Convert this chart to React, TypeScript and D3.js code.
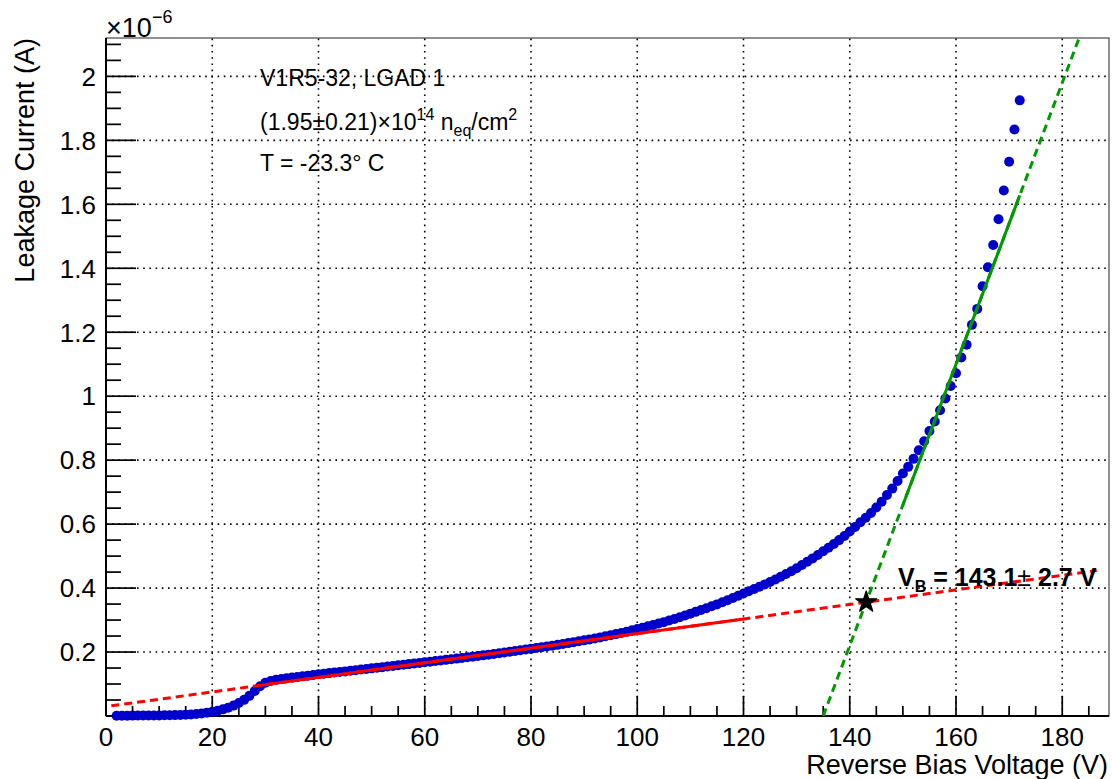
import React from "react";
import * as d3 from "d3";

// Bias scan of V1R5-32, LGAD 1 (1 V steps)
const biasVoltages = [
  2, 3, 4, 5, 6, 7, 8, 9, 10, 11, 12, 13, 14, 15, 16, 17, 18, 19, 20, 21,
  22, 23, 24, 25, 26, 27, 28, 29, 30, 31, 32, 33, 34, 35, 36, 37, 38, 39, 40, 41,
  42, 43, 44, 45, 46, 47, 48, 49, 50, 51, 52, 53, 54, 55, 56, 57, 58, 59, 60, 61,
  62, 63, 64, 65, 66, 67, 68, 69, 70, 71, 72, 73, 74, 75, 76, 77, 78, 79, 80, 81,
  82, 83, 84, 85, 86, 87, 88, 89, 90, 91, 92, 93, 94, 95, 96, 97, 98, 99, 100, 101,
  102, 103, 104, 105, 106, 107, 108, 109, 110, 111, 112, 113, 114, 115, 116, 117, 118, 119, 120, 121,
  122, 123, 124, 125, 126, 127, 128, 129, 130, 131, 132, 133, 134, 135, 136, 137, 138, 139, 140, 141,
  142, 143, 144, 145, 146, 147, 148, 149, 150, 151, 152, 153, 154, 155, 156, 157, 158, 159, 160, 161,
  162, 163, 164, 165, 166, 167, 168, 169, 170, 171, 172,
];

// Leakage current in units of 1e-6 A
const leakageCurrents = [
  0.001, 0.001, 0.0011, 0.0012, 0.0013, 0.0014, 0.0015, 0.0017, 0.0019, 0.0021,
  0.0024, 0.0028, 0.0033, 0.004, 0.005, 0.0063, 0.008, 0.0102, 0.013, 0.0165,
  0.0208, 0.026, 0.0325, 0.0405, 0.0505, 0.063, 0.078, 0.093, 0.104, 0.1095,
  0.113, 0.1158, 0.118, 0.12, 0.122, 0.124, 0.126, 0.1282, 0.1304, 0.1323,
  0.1341, 0.1359, 0.1377, 0.1395, 0.1414, 0.1433, 0.1452, 0.1471, 0.149, 0.1509,
  0.1528, 0.1547, 0.1566, 0.1585, 0.1604, 0.1623, 0.1642, 0.1661, 0.168, 0.1699,
  0.1718, 0.1737, 0.1756, 0.1775, 0.1795, 0.1815, 0.1835, 0.1855, 0.1875, 0.1896,
  0.1918, 0.194, 0.1962, 0.1985, 0.2008, 0.2031, 0.2054, 0.2077, 0.21, 0.2124,
  0.2149, 0.2174, 0.2199, 0.2225, 0.2252, 0.2279, 0.2307, 0.2336, 0.2365, 0.2395,
  0.2426, 0.2458, 0.2491, 0.2525, 0.2561, 0.2598, 0.2637, 0.2678, 0.272, 0.2762,
  0.2805, 0.2848, 0.2891, 0.2935, 0.2985, 0.3035, 0.3088, 0.3143, 0.32, 0.3256,
  0.3313, 0.3371, 0.343, 0.349, 0.3555, 0.362, 0.3688, 0.3758, 0.383, 0.39,
  0.397, 0.4042, 0.4115, 0.419, 0.427, 0.4352, 0.4438, 0.4527, 0.462, 0.472,
  0.4822, 0.4928, 0.5037, 0.515, 0.526, 0.538, 0.55, 0.563, 0.577, 0.591,
  0.606, 0.62, 0.635, 0.652, 0.67, 0.691, 0.711, 0.735, 0.758, 0.779,
  0.804, 0.831, 0.859, 0.891, 0.921, 0.956, 0.993, 1.032, 1.072, 1.121,
  1.161, 1.223, 1.273, 1.344, 1.403, 1.473, 1.553, 1.643, 1.733, 1.834,
  1.925,
];

// Linear fits: pre-breakdown plateau and breakdown slope
const plateauFit = { slope: 0.00228, intercept: 0.0296, fitRange: [29, 120], drawRange: [1, 186.5] };
const breakdownFit = { slope: 0.044, intercept: -5.94, fitRange: [150, 172], drawRange: [135, 186] };

const breakdownVoltage = 143.1;
const breakdownError = 2.7;

const xTickValues = [0, 20, 40, 60, 80, 100, 120, 140, 160, 180];
const yTickValues = [0.2, 0.4, 0.6, 0.8, 1, 1.2, 1.4, 1.6, 1.8, 2];
const yTickLabels = ["0.2", "0.4", "0.6", "0.8", "1", "1.2", "1.4", "1.6", "1.8", "2"];

const infoLines = ["V1R5-32, LGAD 1", "T = -23.3\u00b0 C"];

const W = 1112;
const H = 779;
const M = { left: 106, right: 1109, top: 38, bottom: 716 };
const FONT = "'Liberation Sans', Arial, Helvetica, sans-serif";

export default function App() {
  const x = d3.scaleLinear().domain([0, 188.8]).range([M.left, M.right]);
  const y = d3.scaleLinear().domain([0, 2.12]).range([M.bottom, M.top]);

  const xMinor = d3.range(0, 188.8, 5);
  const yMinor = d3.range(0, 2.12, 0.05);

  const fitLine = (f: typeof plateauFit, r: number[]) => {
    const gen = d3
      .line<number>()
      .x((v) => x(v))
      .y((v) => y(f.slope * v + f.intercept));
    return gen([r[0], r[1]]) || "";
  };

  const starI = plateauFit.slope * breakdownVoltage + plateauFit.intercept;
  const starPath = d3.symbol(d3.symbolStar, 140)() || "";

  const grid = { stroke: "#000", strokeWidth: 1.6, strokeDasharray: "1.6,4.6" };

  return (
    <svg
      width={W}
      height={H}
      style={{ position: "absolute", left: 0, top: 0, background: "#fff" }}
      fontFamily={FONT}
    >
      <defs>
        <clipPath id="frame">
          <rect x={M.left} y={M.top} width={M.right - M.left} height={M.bottom - M.top} />
        </clipPath>
      </defs>
      <rect x={0} y={0} width={W} height={H} fill="#fff" />

      {/* grid */}
      {xTickValues
        .filter((v) => v > 0)
        .map((v) => (
          <line key={"gx" + v} x1={x(v)} x2={x(v)} y1={M.bottom} y2={M.top} {...grid} />
        ))}
      {yTickValues.map((v) => (
        <line key={"gy" + v} x1={M.left} x2={M.right} y1={y(v)} y2={y(v)} {...grid} />
      ))}

      {/* frame */}
      <rect
        x={M.left}
        y={M.top}
        width={M.right - M.left}
        height={M.bottom - M.top}
        fill="none"
        stroke="#222"
        strokeWidth={1}
      />
      <line x1={M.left} x2={M.right} y1={M.bottom} y2={M.bottom} stroke="#000" strokeWidth={2} />
      <line x1={M.left} x2={M.left} y1={M.top} y2={M.bottom} stroke="#000" strokeWidth={2} />

      {/* ticks */}
      {xMinor.map((v) => {
        const major = v % 20 === 0;
        return (
          <line
            key={"tx" + v}
            x1={x(v)}
            x2={x(v)}
            y1={M.bottom}
            y2={M.bottom - (major ? 20 : 10)}
            stroke="#000"
            strokeWidth={1.7}
          />
        );
      })}
      {yMinor.map((v, i) => {
        const major = i % 4 === 0;
        return (
          <line
            key={"ty" + i}
            x1={M.left}
            x2={M.left + (major ? 30 : 15)}
            y1={y(v)}
            y2={y(v)}
            stroke="#000"
            strokeWidth={1.7}
          />
        );
      })}

      {/* tick labels */}
      {xTickValues.map((v) => (
        <text key={"lx" + v} x={x(v)} y={746} fontSize={26} textAnchor="middle" fill="#000">
          {v}
        </text>
      ))}
      {yTickValues.map((v, i) => (
        <text key={"ly" + v} x={96} y={y(v) + 9.3} fontSize={26} textAnchor="end" fill="#000">
          {yTickLabels[i]}
        </text>
      ))}

      {/* exponent */}
      <text x={106} y={37} fontSize={27} fill="#000">
        {"\u00d710"}
      </text>
      <text x={152} y={23} fontSize={18} fill="#000">
        {"\u22126"}
      </text>

      {/* axis titles */}
      <text x={1108} y={774} fontSize={27} textAnchor="end" fill="#000">
        Reverse Bias Voltage (V)
      </text>
      <text transform="translate(34,38) rotate(-90)" fontSize={27} textAnchor="end" fill="#000">
        Leakage Current (A)
      </text>

      {/* data */}
      {biasVoltages.map((v, i) => (
        <circle key={"p" + v} cx={x(v)} cy={y(leakageCurrents[i])} r={5} fill="#0000cc" />
      ))}

      {/* fits */}
      <g clipPath="url(#frame)" fill="none" strokeWidth={3}>
        <path d={fitLine(plateauFit, plateauFit.drawRange)} stroke="#ff0000" strokeDasharray="8,5" />
        <path d={fitLine(plateauFit, plateauFit.fitRange)} stroke="#ff0000" />
        <path d={fitLine(breakdownFit, breakdownFit.drawRange)} stroke="#009900" strokeDasharray="8,5" />
        <path d={fitLine(breakdownFit, breakdownFit.fitRange)} stroke="#009900" />
      </g>

      {/* breakdown point */}
      <path
        d={starPath}
        transform={`translate(${x(breakdownVoltage)},${y(starI)})`}
        fill="#000"
        stroke="#000"
        strokeWidth={1.2}
        strokeLinejoin="round"
      />

      {/* info text */}
      <text x={260} y={86} fontSize={23} fill="#000">
        {infoLines[0]}
      </text>
      <text x={260} y={129.5} fontSize={23} fill="#000">
        <tspan>{"(1.95\u00b10.21)\u00d710"}</tspan>
        <tspan fontSize={16} dy={-10}>
          14
        </tspan>
        <tspan dy={10}>{" n"}</tspan>
        <tspan fontSize={16} dy={6}>
          eq
        </tspan>
        <tspan dy={-6}>/cm</tspan>
        <tspan fontSize={16} dy={-10}>
          2
        </tspan>
      </text>
      <text x={260} y={170.5} fontSize={23} fill="#000">
        {infoLines[1]}
      </text>

      {/* breakdown voltage label */}
      <text x={898} y={586} fontSize={25} fontWeight="bold" fill="#000">
        <tspan>V</tspan>
        <tspan fontSize={16} dy={6}>
          B
        </tspan>
        <tspan dy={-6}>{" = " + breakdownVoltage.toFixed(1)}</tspan>
        <tspan fontWeight="normal">{"\u00b1"}</tspan>
        <tspan>{" " + breakdownError.toFixed(1) + " V"}</tspan>
      </text>
    </svg>
  );
}
